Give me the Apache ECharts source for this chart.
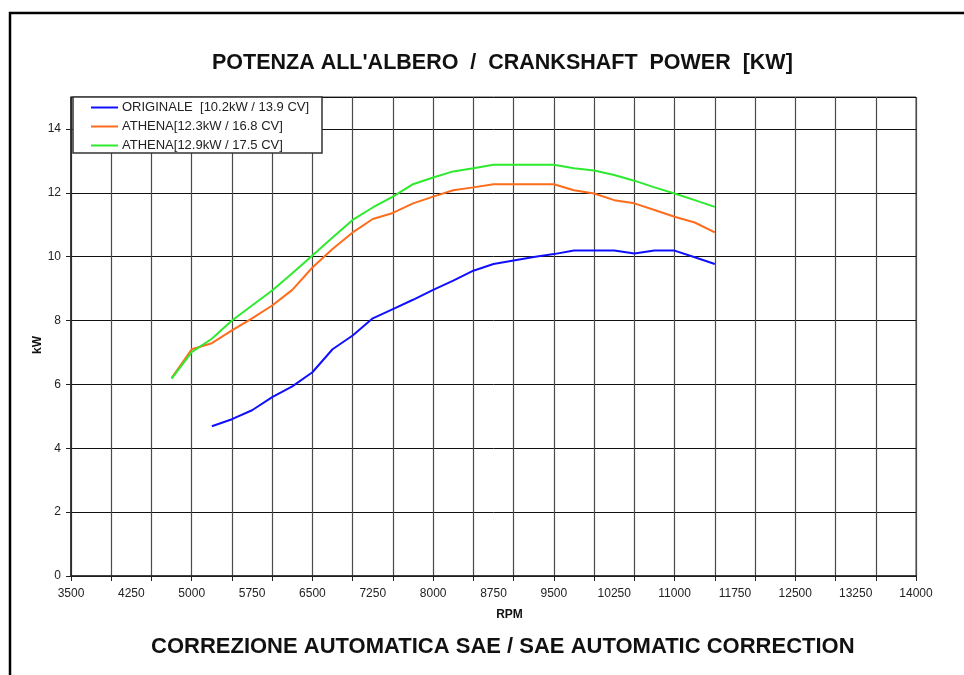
<!DOCTYPE html>
<html>
<head>
<meta charset="utf-8">
<script src="https://cdn.jsdelivr.net/npm/echarts@6/dist/echarts.min.js"></script>
<style>
  html, body { margin: 0; padding: 0; background: #fff; }
  #main { width: 964px; height: 675px; }
</style>
</head>
<body>
<div id="main"></div>
<script>
// dati (giri / kW)
const rpmOriginale = [5250, 5500, 5750, 6000, 6250, 6500, 6750, 7000, 7250, 7500, 7750, 8000, 8250, 8500, 8750, 9000, 9250, 9500, 9750, 10000, 10250, 10500, 10750, 11000, 11250, 11500]
const kwOriginale = [4.69, 4.91, 5.19, 5.6, 5.94, 6.38, 7.1, 7.53, 8.07, 8.36, 8.65, 8.96, 9.25, 9.56, 9.77, 9.88, 9.99, 10.08, 10.19, 10.19, 10.19, 10.1, 10.19, 10.19, 9.98, 9.77]

const rpmAthena = [4750, 5000, 5250, 5500, 5750, 6000, 6250, 6500, 6750, 7000, 7250, 7500, 7750, 8000, 8250, 8500, 8750, 9000, 9250, 9500, 9750, 10000, 10250, 10500, 10750, 11000, 11250, 11500]
const kwAthena1 = [6.2, 7.1, 7.29, 7.69, 8.07, 8.47, 8.96, 9.66, 10.24, 10.76, 11.18, 11.37, 11.67, 11.88, 12.08, 12.17, 12.27, 12.27, 12.27, 12.27, 12.08, 11.98, 11.77, 11.67, 11.46, 11.25, 11.07, 10.76]
const kwAthena2 = [6.18, 7.01, 7.43, 8.0, 8.47, 8.94, 9.48, 10.04, 10.6, 11.15, 11.54, 11.88, 12.27, 12.48, 12.67, 12.77, 12.88, 12.88, 12.88, 12.88, 12.77, 12.7, 12.56, 12.38, 12.17, 11.98, 11.77, 11.56]

const seriesNames = ['ORIGINALE  [10.2kW / 13.9 CV]', 'ATHENA[12.3kW / 16.8 CV]', 'ATHENA[12.9kW / 17.5 CV]']
const colors = ['#1010ff', '#ff6c1c', '#2eea2e']

const xMin = 3500
const xMax = 14000
const xLabelStep = 750
const xGridStep = 500

const font = '"Liberation Sans", Arial, sans-serif'
const pair = (xs, ys) => xs.map((x, i) => [x, ys[i]])

let myChart = echarts.init(document.getElementById('main'))
let gridBox = {left: 71, right: 48, top: 97, bottom: 99}

let option = {
  animation: false,
  backgroundColor: '#fff',
  textStyle: {fontFamily: font},
  color: colors,
  title: [
    {
      text: "POTENZA ALL'ALBERO  /  CRANKSHAFT  POWER  [KW]",
      left: 207, top: 47,
      textStyle: {fontFamily: font, fontSize: 21.5, fontWeight: 'bold', color: '#111'}
    },
    {
      text: 'CORREZIONE AUTOMATICA SAE / SAE AUTOMATIC CORRECTION',
      left: 146, top: 631,
      textStyle: {fontFamily: font, fontSize: 22, fontWeight: 'bold', color: '#111'}
    }
  ],
  graphic: [
    // cornice esterna
    {
      type: 'polyline', z: 1,
      shape: {points: [[964, 13], [10, 13], [10, 675]]},
      style: {stroke: '#000', lineWidth: 2.5, fill: null}
    },
    // riquadro legenda
    {
      type: 'rect', z: 6,
      shape: {x: 73, y: 97, width: 249, height: 56},
      style: {fill: '#fff', stroke: '#333', lineWidth: 1.5}
    },
    // nome asse y
    {
      type: 'text', z: 6,
      x: 38, y: 345, rotation: Math.PI / 2,
      style: {text: 'kW', fontFamily: font, fontSize: 12, fontWeight: 'bold', fill: '#111',
        align: 'center', verticalAlign: 'middle'}
    }
  ],
  legend: {
    z: 10,
    orient: 'vertical',
    left: 91, top: 101,
    padding: 0,
    itemGap: 6,
    itemWidth: 27,
    itemHeight: 2,
    icon: 'rect',
    textStyle: {fontFamily: font, fontSize: 13, color: '#222', padding: [0, 0, 0, -1]},
    data: seriesNames
  },
  grid: [
    {...gridBox, show: true, borderColor: '#444', borderWidth: 1},
    {...gridBox, show: false}
  ],
  xAxis: [
    {
      type: 'value', gridIndex: 0,
      min: xMin, max: xMax, interval: xGridStep,
      axisLine: {show: true, lineStyle: {color: '#222', width: 1.5}},
      axisTick: {show: true, length: 5, lineStyle: {color: '#222'}},
      axisLabel: {show: false},
      splitLine: {show: true, lineStyle: {color: '#4a4a4a', width: 1.2}},
      name: 'RPM', nameLocation: 'middle', nameGap: 33,
      nameTextStyle: {fontFamily: font, fontSize: 12, fontWeight: 'bold', color: '#111', padding: [0, 0, 0, 32]}
    },
    {
      // solo etichette ogni 750 giri (scala spostata di xMin)
      type: 'value', gridIndex: 1,
      min: 0, max: xMax - xMin, interval: xLabelStep,
      axisLine: {show: false},
      axisTick: {show: false},
      splitLine: {show: false},
      axisLabel: {
        show: true, margin: 12,
        fontFamily: font, fontSize: 12, color: '#222',
        formatter: (v) => String(v + xMin)
      }
    }
  ],
  yAxis: [
    {
      type: 'value', gridIndex: 0,
      min: 0, max: 15, interval: 2,
      axisLine: {show: true, lineStyle: {color: '#222', width: 1.5}},
      axisTick: {show: true, length: 5, lineStyle: {color: '#222'}},
      axisLabel: {fontFamily: font, fontSize: 12, color: '#222', margin: 10, showMaxLabel: false,
        formatter: (v) => v > 14 ? '' : String(v)},
      splitLine: {show: true, lineStyle: {color: '#111', width: 1}}
    },
    {type: 'value', gridIndex: 1, min: 0, max: 15, show: false}
  ],
  series: [
    {name: seriesNames[0], type: 'line', xAxisIndex: 0, yAxisIndex: 0, symbol: 'none', z: 3,
      lineStyle: {width: 2, color: colors[0]}, data: pair(rpmOriginale, kwOriginale)},
    {name: seriesNames[1], type: 'line', xAxisIndex: 0, yAxisIndex: 0, symbol: 'none', z: 3,
      lineStyle: {width: 2, color: colors[1]}, data: pair(rpmAthena, kwAthena1)},
    {name: seriesNames[2], type: 'line', xAxisIndex: 0, yAxisIndex: 0, symbol: 'none', z: 3,
      lineStyle: {width: 2, color: colors[2]}, data: pair(rpmAthena, kwAthena2)}
  ]
}

myChart.setOption(option, true)
</script>
</body>
</html>
